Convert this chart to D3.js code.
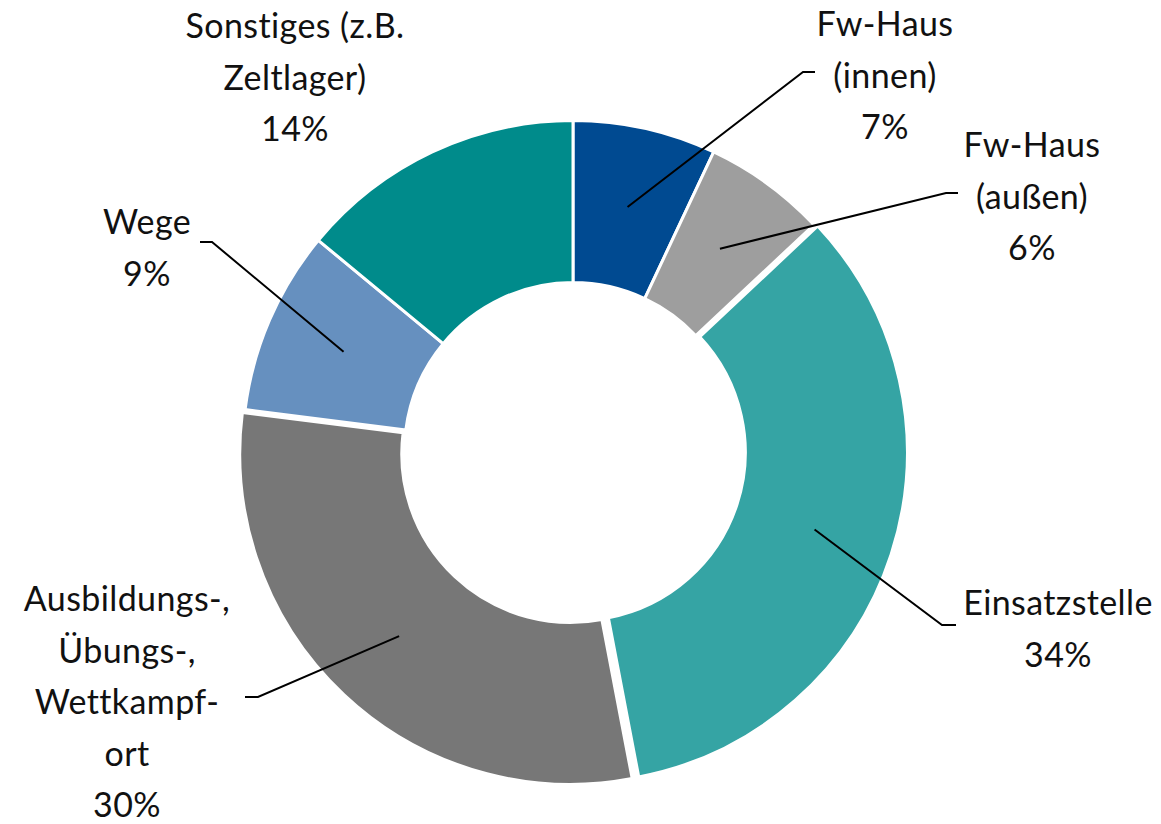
<!DOCTYPE html>
<html lang="de">
<head>
<meta charset="UTF-8">
<title>Unfallorte</title>
<script src="https://cdn.jsdelivr.net/npm/d3@7/dist/d3.min.js"></script>
<style>
  body { margin: 0; background: #fff; }
  .label { font-family: Lato, "Open Sans", sans-serif; font-size: 34px; letter-spacing: 0.4px; fill: #111; }
</style>
</head>
<body>
<svg id="chart" width="1161" height="824"></svg>
<script>
// Daten
const categories = ['Fw-Haus (innen)', 'Fw-Haus (außen)', 'Einsatzstelle',
  'Ausbildungs-, Übungs-, Wettkampfort', 'Wege', 'Sonstiges (z.B. Zeltlager)'];
const values = [7, 6, 34, 30, 9, 14];
const colors = ['#004a91', '#9e9e9e', '#35a4a4', '#777777', '#6690bf', '#008b8b'];
const labelLines = [
  ['Fw-Haus', '(innen)'],
  ['Fw-Haus', '(außen)'],
  ['Einsatzstelle'],
  ['Ausbildungs-,', 'Übungs-,', 'Wettkampf-', 'ort'],
  ['Wege'],
  ['Sonstiges (z.B.', 'Zeltlager)']
];

// Layout der Beschriftungen (Textmitte, erste Grundlinie, Knickpunkt der Linie)
const labelLayout = [
  { x: 885, y: 36, elbow: [803, 72], end: [815, 72] },
  { x: 1032, y: 157, elbow: [946, 193], end: [958, 193] },
  { x: 1058, y: 615, elbow: [942, 625], end: [956, 625] },
  { x: 127, y: 611, elbow: [258, 697], end: [245, 697] },
  { x: 147, y: 234, elbow: [212, 242], end: [200, 242] },
  { x: 295, y: 38, elbow: null, end: null }
];
const exploded = [0, 0, 4, 4, 0, 0];

const cx = 573, cy = 451;
const outerR = 330.5, innerR = 168.5;
const lineH = 51.5;

const svg = d3.select('#chart');
const g = svg.append('g').attr('transform', `translate(${cx},${cy})`);

const pie = d3.pie().sort(null).value(d => d)(values);
const arc = d3.arc().innerRadius(innerR).outerRadius(outerR);
const midArc = d3.arc().innerRadius(250).outerRadius(250);

// Segmente
g.selectAll('path.slice')
  .data(pie)
  .enter()
  .append('path')
  .attr('class', 'slice')
  .attr('d', arc)
  .attr('fill', (d, i) => colors[i])
  .attr('stroke', '#fff')
  .attr('stroke-width', 3)
  .attr('transform', (d, i) => {
    const a = (d.startAngle + d.endAngle) / 2;
    const o = exploded[i];
    return `translate(${o * Math.sin(a)},${-o * Math.cos(a)})`;
  });

// Führungslinien
pie.forEach((d, i) => {
  const L = labelLayout[i];
  if (!L.elbow) return;
  const a = (d.startAngle + d.endAngle) / 2;
  const o = exploded[i];
  const [sx, sy] = midArc.centroid(d);
  const start = [cx + sx + o * Math.sin(a), cy + sy - o * Math.cos(a)];
  svg.append('path')
    .attr('d', d3.line()([start, L.elbow, L.end]))
    .attr('fill', 'none')
    .attr('stroke', '#000')
    .attr('stroke-width', 2);
});

// Beschriftungen
pie.forEach((d, i) => {
  const L = labelLayout[i];
  const lines = labelLines[i].concat([d.data + '%']);
  const t = svg.append('text')
    .attr('class', 'label')
    .attr('text-anchor', 'middle');
  lines.forEach((s, k) => {
    t.append('tspan')
      .attr('x', L.x)
      .attr('y', L.y + k * lineH)
      .text(s);
  });
});
</script>
</body>
</html>
